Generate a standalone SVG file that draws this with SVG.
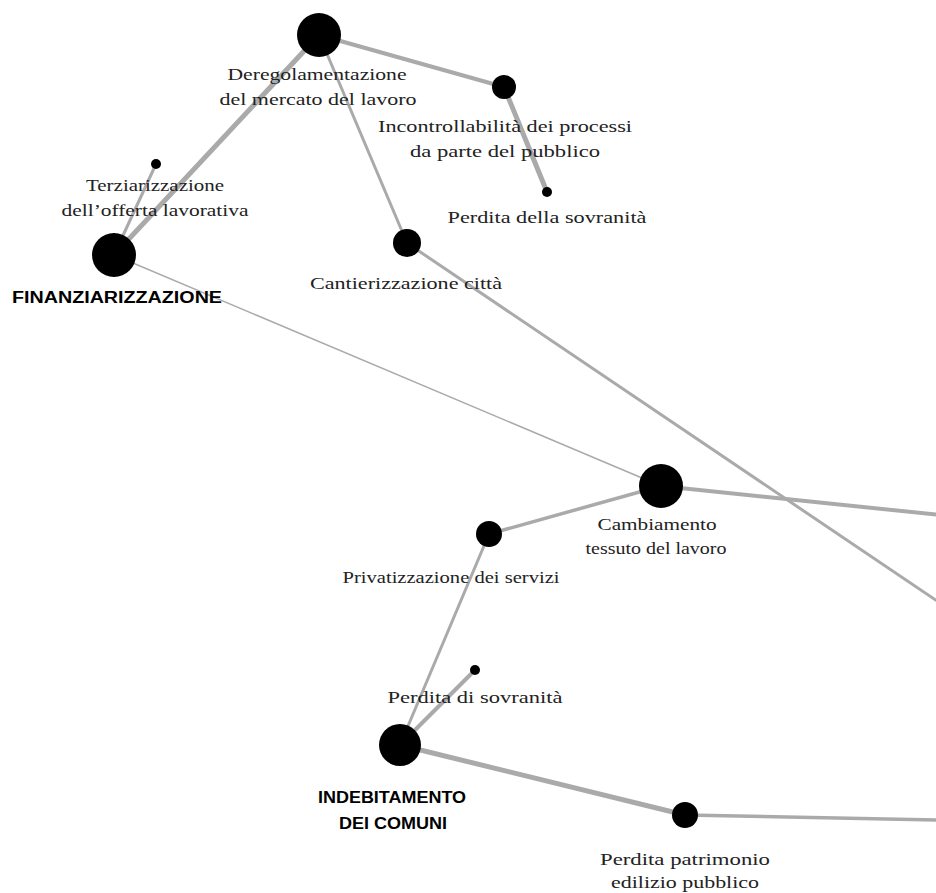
<svg xmlns="http://www.w3.org/2000/svg" width="936" height="893" viewBox="0 0 936 893">
<style>
.e{stroke:#aaaaaa;fill:none;stroke-linecap:round}
.n{fill:#000}
.t{font-family:"Liberation Serif","Times New Roman",serif;font-size:17px;fill:#222;text-anchor:middle}
.b{font-family:"Liberation Sans",Arial,sans-serif;font-size:16px;font-weight:bold;fill:#000;text-anchor:middle}
</style>
<rect width="936" height="893" fill="#fff"/>
<g id="connectors">
<line class="e" x1="319" y1="35" x2="114" y2="255" stroke-width="5"/>
<line class="e" x1="156" y1="164" x2="114" y2="255" stroke-width="3"/>
<line class="e" x1="319" y1="35" x2="504" y2="87" stroke-width="4"/>
<line class="e" x1="319" y1="35" x2="407" y2="243" stroke-width="3"/>
<line class="e" x1="504" y1="87" x2="547" y2="192" stroke-width="5"/>
<line class="e" x1="407" y1="243" x2="940" y2="603" stroke-width="3"/>
<line class="e" x1="114" y1="255" x2="661" y2="486" stroke-width="1.5"/>
<line class="e" x1="661" y1="486" x2="940" y2="515" stroke-width="4"/>
<line class="e" x1="661" y1="486" x2="489" y2="534" stroke-width="3.5"/>
<line class="e" x1="489" y1="534" x2="400" y2="745" stroke-width="3"/>
<line class="e" x1="400" y1="745" x2="475" y2="670" stroke-width="4"/>
<line class="e" x1="400" y1="745" x2="685" y2="815" stroke-width="5"/>
<line class="e" x1="685" y1="815" x2="940" y2="820" stroke-width="3.5"/>
</g>
<g id="deregolamentazione">
<circle class="n" cx="319" cy="35" r="22"/>
<text class="t" x="317" y="80" textLength="179" lengthAdjust="spacingAndGlyphs">Deregolamentazione</text>
<text class="t" x="318" y="105" textLength="197" lengthAdjust="spacingAndGlyphs">del mercato del lavoro</text>
</g>
<g id="incontrollabilita">
<circle class="n" cx="504" cy="87" r="12"/>
<text class="t" x="505" y="132" textLength="254" lengthAdjust="spacingAndGlyphs">Incontrollabilità dei processi</text>
<text class="t" x="505" y="157" textLength="190" lengthAdjust="spacingAndGlyphs">da parte del pubblico</text>
</g>
<g id="perdita-della-sovranita">
<circle class="n" cx="547" cy="192" r="5"/>
<text class="t" x="547" y="223" textLength="199" lengthAdjust="spacingAndGlyphs">Perdita della sovranità</text>
</g>
<g id="terziarizzazione">
<circle class="n" cx="156" cy="164" r="5"/>
<text class="t" x="155" y="191" textLength="138" lengthAdjust="spacingAndGlyphs">Terziarizzazione</text>
<text class="t" x="155" y="216" textLength="187" lengthAdjust="spacingAndGlyphs">dell’offerta lavorativa</text>
</g>
<g id="finanziarizzazione">
<circle class="n" cx="114" cy="255" r="22"/>
<text class="b" x="117" y="303" textLength="210" lengthAdjust="spacingAndGlyphs">FINANZIARIZZAZIONE</text>
</g>
<g id="cantierizzazione">
<circle class="n" cx="407" cy="243" r="14"/>
<text class="t" x="406" y="289" textLength="192" lengthAdjust="spacingAndGlyphs">Cantierizzazione città</text>
</g>
<g id="cambiamento">
<circle class="n" cx="661" cy="486" r="22"/>
<text class="t" x="657" y="530" textLength="119" lengthAdjust="spacingAndGlyphs">Cambiamento</text>
<text class="t" x="656" y="554" textLength="141" lengthAdjust="spacingAndGlyphs">tessuto del lavoro</text>
</g>
<g id="privatizzazione">
<circle class="n" cx="489" cy="534" r="13"/>
<text class="t" x="451" y="583" textLength="217" lengthAdjust="spacingAndGlyphs">Privatizzazione dei servizi</text>
</g>
<g id="perdita-di-sovranita">
<circle class="n" cx="475" cy="670" r="5"/>
<text class="t" x="475" y="703" textLength="175" lengthAdjust="spacingAndGlyphs">Perdita di sovranità</text>
</g>
<g id="indebitamento">
<circle class="n" cx="400" cy="745" r="21"/>
<text class="b" x="392" y="803" textLength="148" lengthAdjust="spacingAndGlyphs">INDEBITAMENTO</text>
<text class="b" x="393" y="829" textLength="108" lengthAdjust="spacingAndGlyphs">DEI COMUNI</text>
</g>
<g id="perdita-patrimonio">
<circle class="n" cx="685" cy="815" r="13"/>
<text class="t" x="685" y="865" textLength="170" lengthAdjust="spacingAndGlyphs">Perdita patrimonio</text>
<text class="t" x="685" y="888" textLength="148" lengthAdjust="spacingAndGlyphs">edilizio pubblico</text>
</g>
</svg>
